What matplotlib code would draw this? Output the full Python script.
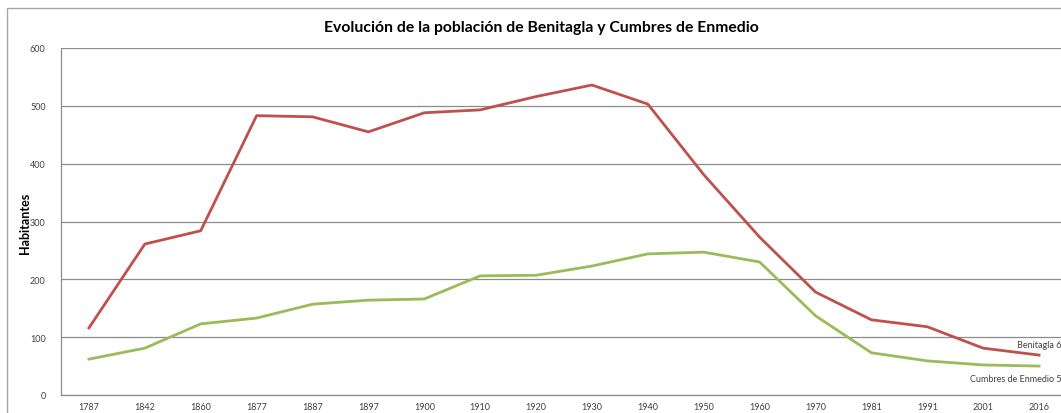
import matplotlib.pyplot as plt
from matplotlib.patches import Rectangle

years = ["1787", "1842", "1860", "1877", "1887", "1897", "1900", "1910", "1920",
         "1930", "1940", "1950", "1960", "1970", "1981", "1991", "2001", "2016"]
benitagla = [116, 261, 284, 483, 481, 455, 488, 493, 516,
             536, 503, 381, 273, 178, 130, 118, 81, 69]
cumbres = [62, 81, 123, 133, 157, 164, 166, 206, 207,
           223, 244, 247, 230, 137, 73, 59, 52, 50]
yticks = [0, 100, 200, 300, 400, 500, 600]

plt.rcParams['font.family'] = ['Lato', 'DejaVu Sans']

fig = plt.figure(figsize=(10.61, 4.14), dpi=100)
# outer chart border (image is cropped on the right/bottom)
fig.patches.append(Rectangle((7 / 1061, -0.05), 1.1, 1 - 9 / 414 + 0.05,
                             transform=fig.transFigure, fill=False,
                             edgecolor='#a6a6a6', linewidth=1))

ax = fig.add_axes([61 / 1061, 18 / 414, 1006 / 1061, 347 / 414])
x = list(range(len(years)))
ax.plot(x, benitagla, color='#c0504d', linewidth=2)
ax.plot(x, cumbres, color='#9bbb59', linewidth=2)

ax.set_xlim(-0.5, len(years) - 0.5)
ax.set_ylim(0, 600)
ax.set_xticks(x)
ax.set_xticklabels(years)
ax.set_yticks(yticks)
ax.tick_params(axis='both', length=0, labelsize=6.5, colors='#404040')
ax.tick_params(axis='y', pad=11)
ax.tick_params(axis='x', pad=5)
ax.grid(axis='y', color='#8c8c8c', linewidth=0.9)
ax.set_axisbelow(True)
for side in ['top', 'right']:
    ax.spines[side].set_visible(False)
for side in ['left', 'bottom']:
    ax.spines[side].set_color('#8c8c8c')
    ax.spines[side].set_linewidth(0.9)

fig.text(25 / 1061, 1 - 223 / 414, 'Habitantes', rotation=90, ha='center', va='center',
         fontsize=9, fontweight='bold')
fig.text(541 / 1061, 1 - 28 / 414, 'Evolución de la población de Benitagla y Cumbres de Enmedio',
         ha='center', va='center', fontsize=11.3, fontweight='bold')

fig.text(1, 1 - 345 / 414, 'Benitagla 6', ha='right', va='center', fontsize=6.5, color='#404040')
fig.text(1, 1 - 380 / 414, 'Cumbres de Enmedio 5', ha='right', va='center', fontsize=6.5, color='#404040')

fig.savefig('out.png', dpi=100)
